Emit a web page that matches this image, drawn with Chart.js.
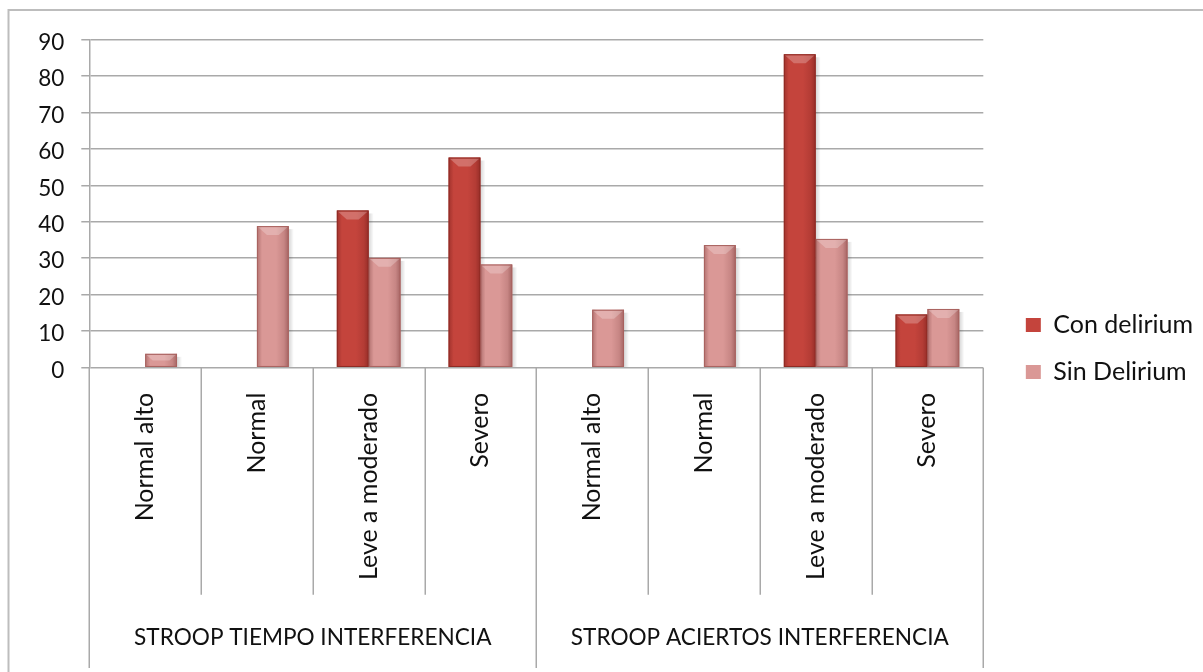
<!DOCTYPE html>
<html>
<head>
<meta charset="utf-8">
<script src="https://cdn.jsdelivr.net/npm/chart.js@4/dist/chart.umd.min.js"></script>
<style>
  html, body { margin: 0; padding: 0; background: #fff; }
  canvas { display: block; }
</style>
</head>
<body>
<canvas id="c" width="1203" height="672"></canvas>
<script>
// Categories on the inner axis and their grouping on the outer axis
const categories = ['Normal alto', 'Normal', 'Leve a moderado', 'Severo',
                    'Normal alto', 'Normal', 'Leve a moderado', 'Severo'];
const groups = ['STROOP TIEMPO INTERFERENCIA', 'STROOP ACIERTOS INTERFERENCIA'];
const groupSize = 4;

// Series values (percent)
const conDelirium = [0, 0, 43.1, 57.6, 0, 0, 85.9, 14.6];
const sinDelirium = [3.8, 38.8, 30.1, 28.3, 15.9, 33.6, 35.3, 16.1];

// Value axis ticks
const yTicks = [0, 10, 20, 30, 40, 50, 60, 70, 80, 90];

const FONT = 'Lato, "Open Sans", sans-serif';
const GRID = '#a9a9a9';
const TEXT = '#111';

// Bevelled look for the bars: dark edges, light top facet, soft shadow
const bevelPlugin = {
  id: 'bevel',
  beforeDatasetsDraw(chart) {
    const ctx = chart.ctx;
    chart.data.datasets.forEach((ds, di) => {
      chart.getDatasetMeta(di).data.forEach(bar => {
        const h = bar.base - bar.y;
        if (h <= 0.5) return;
        const r = bar.x + bar.width / 2;
        const g = ctx.createLinearGradient(r, 0, r + 5, 0);
        g.addColorStop(0, 'rgba(0,0,0,0.16)');
        g.addColorStop(1, 'rgba(0,0,0,0)');
        ctx.save();
        ctx.fillStyle = g;
        ctx.fillRect(r, bar.y + 3, 5, h - 3);
        ctx.restore();
      });
    });
  },
  afterDatasetsDraw(chart) {
    const ctx = chart.ctx;
    chart.data.datasets.forEach((ds, di) => {
      const meta = chart.getDatasetMeta(di);
      meta.data.forEach(bar => {
        const h = bar.base - bar.y;
        if (h <= 0.5) return;
        const l = bar.x - bar.width / 2, r = bar.x + bar.width / 2, t = bar.y, w = bar.width;
        ctx.save();
        const g = ctx.createLinearGradient(l, 0, r, 0);
        g.addColorStop(0, 'rgba(60,0,0,0.26)');
        g.addColorStop(0.16, 'rgba(60,0,0,0.0)');
        g.addColorStop(0.6, 'rgba(60,0,0,0.0)');
        g.addColorStop(0.85, 'rgba(60,0,0,0.12)');
        g.addColorStop(1, 'rgba(60,0,0,0.34)');
        ctx.fillStyle = g;
        ctx.fillRect(l, t, w, h);
        const b = Math.min(9, h / 2);
        ctx.beginPath();
        ctx.moveTo(l + 1, t + 1);
        ctx.lineTo(r - 1, t + 1);
        ctx.lineTo(r - 1 - b, t + b);
        ctx.lineTo(l + 1 + b, t + b);
        ctx.closePath();
        ctx.fillStyle = 'rgba(255,255,255,0.24)';
        ctx.fill();
        ctx.strokeStyle = ds.borderColor;
        ctx.lineWidth = 1;
        ctx.strokeRect(l + 0.5, t + 0.5, w - 1, h - 1);
        ctx.restore();
      });
    });
  }
};

// Frame, category separators and group separators below the plot
const framePlugin = {
  id: 'frame',
  beforeDraw(chart) {
    const ctx = chart.ctx;
    ctx.save();
    ctx.strokeStyle = '#bdbdbd';
    ctx.lineWidth = 2;
    ctx.beginPath();
    ctx.moveTo(8.5, chart.height + 2);
    ctx.lineTo(8.5, 10);
    ctx.lineTo(chart.width + 2, 10);
    ctx.stroke();
    ctx.restore();
  },
  afterDraw(chart) {
    const ctx = chart.ctx;
    const x = chart.scales.x;
    const area = chart.chartArea;
    const n = categories.length;
    const step = (area.right - area.left) / n;
    const groupBottom = chart.height - 4;
    ctx.save();
    ctx.strokeStyle = GRID;
    ctx.lineWidth = 1.5;
    for (let k = 0; k <= n; k++) {
      const px = Math.round(area.left + k * step) + 0.25;
      const bottom = (k % groupSize === 0) ? groupBottom : x.bottom;
      ctx.beginPath();
      ctx.moveTo(px, area.bottom);
      ctx.lineTo(px, bottom);
      ctx.stroke();
    }
    ctx.restore();
  }
};

const chart = new Chart(document.getElementById('c'), {
  type: 'bar',
  data: {
    labels: categories,
    datasets: [
      {
        label: 'Con delirium',
        data: conDelirium,
        backgroundColor: '#c4443c',
        borderColor: '#8e2a23',
        borderWidth: 0
      },
      {
        label: 'Sin Delirium',
        data: sinDelirium,
        backgroundColor: '#da9896',
        borderColor: '#a8625f',
        borderWidth: 0
      }
    ]
  },
  options: {
    responsive: false,
    animation: false,
    events: [],
    layout: { padding: { left: 0, right: 0, top: 39.3, bottom: 14.3 } },
    datasets: { bar: { categoryPercentage: 0.57, barPercentage: 1.0 } },
    scales: {
      y: {
        min: 0, max: 90,
        afterBuildTicks: s => { s.ticks = yTicks.map(v => ({ value: v })); },
        afterFit: s => { s.width = 89.3; },
        grid: { color: GRID, lineWidth: 1.5, tickLength: 8 },
        border: { color: GRID, width: 1.5 },
        ticks: { color: TEXT, font: { family: FONT, size: 22.5 }, padding: 17, labelOffset: 3 }
      },
      yR: {
        position: 'right',
        display: true,
        grid: { display: false, drawTicks: false },
        border: { display: false },
        ticks: { display: false },
        afterFit: s => { s.width = Math.max(0, s.chart.width - 983.3 - s.chart.legend.width); }
      },
      x: {
        weight: 0,
        grid: { display: false, drawTicks: false },
        border: { display: false },
        afterFit: s => { s.height = 227; },
        ticks: {
          autoSkip: false, minRotation: 90, maxRotation: 90,
          padding: 25,
          color: TEXT, font: { family: FONT, size: 25 }
        }
      },
      xg: {
        type: 'category',
        labels: groups,
        position: 'bottom',
        offset: true,
        weight: 1,
        grid: { display: false, drawTicks: false },
        border: { display: false },
        afterFit: s => { s.height = 63; },
        ticks: {
          autoSkip: false, maxRotation: 0,
          padding: 29,
          color: TEXT, font: { family: FONT, size: 22.6 }
        }
      }
    },
    plugins: {
      tooltip: { enabled: false },
      legend: {
        position: 'right',
        maxWidth: 203,
        labels: {
          color: TEXT,
          font: { family: FONT, size: 25 },
          boxWidth: 15, boxHeight: 14,
          padding: 22
        }
      }
    }
  },
  plugins: [framePlugin, bevelPlugin]
});
</script>
</body>
</html>
